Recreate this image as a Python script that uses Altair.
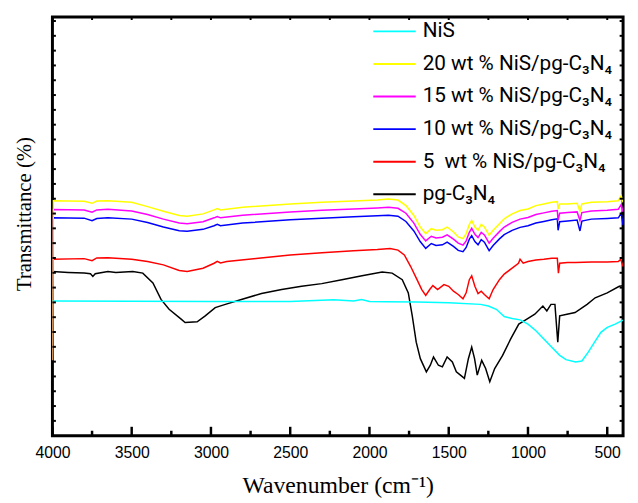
import altair as alt
import pandas as pd

# ---------------- data (arbitrary transmittance units) -------------
series_names = ["NiS", "20 wt % NiS/pg-C₃N₄", "15 wt % NiS/pg-C₃N₄",
                "10 wt % NiS/pg-C₃N₄", "5\u00a0 wt % NiS/pg-C₃N₄", "pg-C₃N₄"]
series_colors = ["#00FFFF", "#FFFF00", "#FF00FF", "#0000FF", "#FF0000", "#000000"]

# NiS
nis_wn = [4000, 3000, 2500, 2225, 2100, 2050, 2000, 1900, 1700, 1500, 1300, 1250, 1200, 1150,
          1100, 1050, 1000, 950, 900, 850, 800, 760, 700, 660, 620, 580, 540, 500, 450, 400]
nis_v = [409, 408, 408, 413, 409, 414, 408, 407, 406, 404, 399, 394, 384, 362,
         356, 352, 339, 319, 294, 269, 244, 231, 224, 227, 254, 284, 314, 329, 339, 351]

# composites (20, 15, 10 wt %)
comp_wn = [4000, 3995, 3800, 3750, 3720, 3650, 3500, 3400, 3300, 3200, 3150, 3050, 2980, 2960,
           2940, 2800, 2500, 2300, 2100, 1950, 1880, 1820, 1770, 1720, 1680, 1645, 1610, 1580,
           1540, 1510, 1470, 1440, 1410, 1390, 1370, 1355, 1335, 1315, 1295, 1275, 1245, 1220,
           1180, 1150, 1100, 1050, 1000, 950, 900, 850, 815, 810, 800, 750, 690, 672, 660,
           600, 500, 430, 412, 400]
w20_v = [229, 714, 712, 706, 713, 714, 709, 696, 682, 669, 667, 674, 686, 690,
         686, 694, 704, 709, 713, 716, 719, 716, 699, 669, 634, 614, 629, 624,
         626, 634, 619, 604, 599, 614, 642, 654, 634, 624, 642, 634, 609, 624,
         644, 659, 674, 684, 689, 699, 704, 709, 711, 689, 704, 704, 706, 682, 704,
         709, 711, 714, 729, 709]
w15_v = [229, 687, 686, 679, 686, 688, 683, 672, 658, 646, 644, 650, 662, 666,
         662, 670, 680, 685, 689, 692, 694, 691, 676, 646, 612, 592, 606, 601,
         603, 610, 597, 585, 579, 592, 618, 630, 612, 602, 618, 610, 585, 600,
         620, 634, 648, 658, 663, 672, 677, 682, 684, 654, 676, 678, 680, 654, 678,
         683, 685, 688, 702, 680]
w10_v = [229, 662, 661, 653, 660, 662, 658, 648, 634, 623, 621, 627, 638, 642,
         638, 646, 656, 661, 665, 668, 670, 667, 651, 622, 590, 569, 584, 578,
         580, 588, 575, 563, 559, 572, 597, 608, 590, 580, 596, 588, 562, 578,
         598, 611, 624, 633, 638, 646, 651, 656, 659, 624, 650, 652, 655, 622, 652,
         658, 660, 662, 676, 640]

# 5 wt %
w5_wn = [4000, 3800, 3750, 3720, 3650, 3500, 3400, 3300, 3200, 3150, 3050, 2980, 2960, 2940,
         2900, 2700, 2500, 2300, 2100, 1950, 1870, 1820, 1780, 1740, 1700, 1670, 1645, 1620,
         1600, 1570, 1530, 1500, 1470, 1440, 1410, 1390, 1370, 1355, 1335, 1315, 1295, 1275,
         1245, 1220, 1180, 1150, 1100, 1060, 1050, 1030, 1000, 950, 900, 850, 815, 808, 800,
         750, 700, 600, 500, 430, 415, 400]
w5_v = [536, 538, 532, 540, 541, 536, 529, 519, 502, 499, 509, 524, 530, 525,
        529, 539, 549, 556, 562, 566, 569, 564, 549, 514, 474, 444, 426, 444,
        456, 444, 459, 454, 439, 429, 416, 434, 474, 486, 454, 432, 439, 429,
        416, 444, 474, 491, 509, 524, 536, 524, 529, 534, 536, 539, 539, 494, 524,
        526, 526, 528, 528, 529, 536, 514]

# pg-C3N4
pg_wn = [4000, 3900, 3800, 3760, 3745, 3730, 3650, 3600, 3493, 3430, 3366, 3315, 3264, 3188,
         3163, 3087, 3036, 2973, 2909, 2808, 2681, 2554, 2428, 2301, 2174, 2047, 1920, 1857,
         1793, 1755, 1730, 1705, 1679, 1641, 1616, 1596, 1565, 1540, 1510, 1477, 1452, 1426,
         1401, 1376, 1355, 1337, 1320, 1292, 1267, 1241, 1210, 1160, 1109, 1058, 1007, 957,
         906, 881, 855, 830, 812, 800, 754, 703, 627, 576, 500, 424, 400]
pg_v = [499, 496, 494, 492, 484, 492, 499, 496, 499, 494, 464, 414, 384, 354,
        344, 346, 364, 389, 399, 414, 432, 444, 454, 462, 474, 486, 497, 494,
        474, 434, 364, 284, 234, 194, 214, 239, 214, 209, 239, 224, 194, 184,
        174, 234, 269, 234, 184, 229, 204, 164, 204, 244, 294, 339, 354, 369,
        394, 379, 399, 399, 284, 364, 369, 374, 399, 419, 434, 454, 456]

# axis ticks
x_label_values = [4000, 3500, 3000, 2500, 2000, 1500, 1000, 500]
x_minor_values = [3750, 3250, 2750, 2250, 1750, 1250, 750]
y_tick_values = list(range(45, 1272, 45))

# ---------------- build table ----------------
rows = []
def add(name, wn, vals):
    for w, v in zip(wn, vals):
        rows.append({"series": name, "wn": w, "v": v})

add(series_names[5], pg_wn, pg_v)
add(series_names[4], w5_wn, w5_v)
add(series_names[3], comp_wn, w10_v)
add(series_names[2], comp_wn, w15_v)
add(series_names[1], comp_wn, w20_v)
add(series_names[0], nis_wn, nis_v)
df = pd.DataFrame(rows)

W, H = 578, 424

x_scale = alt.Scale(domain=[400, 4000], reverse=True, nice=False, zero=False)
y_scale = alt.Scale(domain=[0, 1272], nice=False, zero=False)

x_axis = alt.Axis(values=x_label_values, title="Wavenumber (cm⁻¹)", grid=False, domain=False,
                  ticks=False, labelFont="Liberation Sans", labelFontSize=16, labelColor="black",
                  labelPadding=9, labelFlush=False, labelOverlap=False, format="d",
                  titleFont="Liberation Serif", titleFontSize=24, titleFontWeight="normal",
                  titleColor="black", titlePadding=14)
y_axis = alt.Axis(title="Transmittance (%)", labels=False, ticks=False, domain=False, grid=False,
                  titleFont="Liberation Serif", titleFontSize=21, titleFontWeight="normal",
                  titleColor="black", titlePadding=18, titleY=199)

lines = alt.Chart(df).mark_line(strokeWidth=1.5, clip=True).encode(
    x=alt.X("wn:Q", scale=x_scale, axis=x_axis),
    y=alt.Y("v:Q", scale=y_scale, axis=y_axis),
    color=alt.Color("series:N",
                    scale=alt.Scale(domain=series_names, range=series_colors),
                    legend=alt.Legend(title=None, orient="none", legendX=324, legendY=-8,
                                      symbolType="stroke", symbolSize=1849, symbolStrokeWidth=2,
                                      labelFont="Roboto",
                                      labelFontSize=21,
                                      labelColor="black", labelOffset=6, rowPadding=-22,
                                      padding=0, labelLimit=400)),
)

major_df = pd.DataFrame({"wn": x_label_values})
minor_df = pd.DataFrame({"wn": x_minor_values})
ytick_df = pd.DataFrame({"v": y_tick_values})

major_ticks = alt.Chart(major_df).mark_rule(color="black", strokeWidth=2.5).encode(
    x=alt.X("wn:Q", scale=x_scale, axis=x_axis), y=alt.value(H), y2=alt.value(H - 9))
minor_ticks = alt.Chart(minor_df).mark_rule(color="black", strokeWidth=2.5).encode(
    x=alt.X("wn:Q", scale=x_scale, axis=x_axis), y=alt.value(H), y2=alt.value(H - 5))
top_ticks = alt.Chart(pd.concat([major_df, minor_df])).mark_rule(color="black", strokeWidth=2).encode(
    x=alt.X("wn:Q", scale=x_scale, axis=x_axis), y=alt.value(0), y2=alt.value(3))
left_ticks = alt.Chart(ytick_df).mark_rule(color="black", strokeWidth=2).encode(
    y=alt.Y("v:Q", scale=y_scale, axis=y_axis), x=alt.value(0), x2=alt.value(3.5))
right_ticks = alt.Chart(ytick_df).mark_rule(color="black", strokeWidth=2).encode(
    y=alt.Y("v:Q", scale=y_scale, axis=y_axis), x=alt.value(W), x2=alt.value(W - 3.5))

chart = alt.layer(lines, major_ticks, minor_ticks, top_ticks, left_ticks, right_ticks).properties(
    width=W, height=H,
    autosize=alt.AutoSizeParams(type="none"),
    padding={"left": 45, "top": 6, "right": 7, "bottom": 65},
).configure_view(stroke="black", strokeWidth=3)

chart.save("out.html", embed_options={"renderer": "svg", "actions": False})
